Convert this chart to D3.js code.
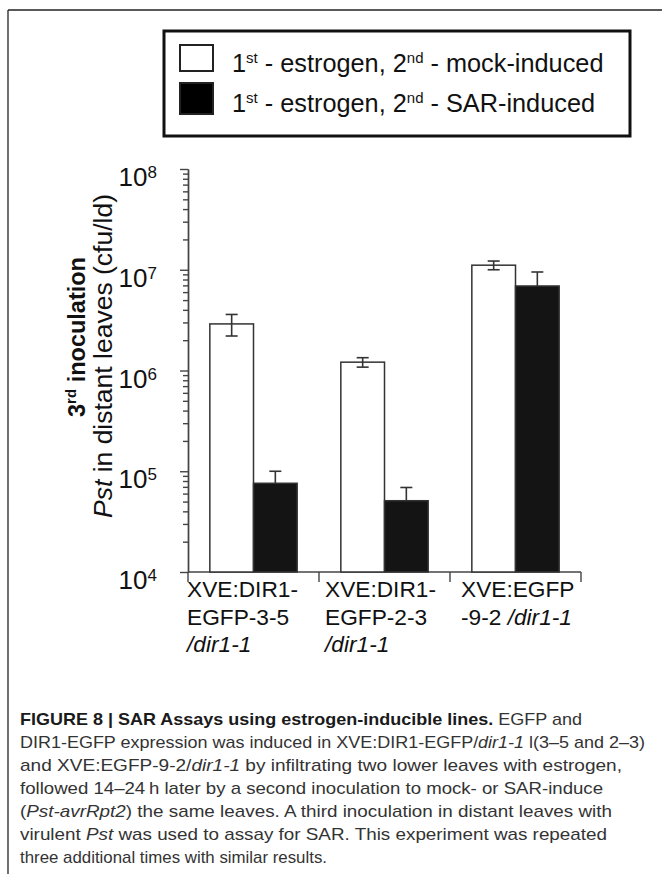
<!DOCTYPE html>
<html>
<head>
<meta charset="utf-8">
<script src="https://cdn.jsdelivr.net/npm/d3@7"></script>
<style>
  html, body { margin: 0; padding: 0; background: #fff; }
  svg { display: block; }
  text { font-family: "Liberation Sans", Arial, Helvetica, sans-serif; }
</style>
</head>
<body>
<svg id="chart" width="662" height="874"></svg>
<script>
// ---------------- DATA ----------------
const categories = ["XVE:DIR1-EGFP-3-5/dir1-1", "XVE:DIR1-EGFP-2-3/dir1-1", "XVE:EGFP-9-2/dir1-1"];
// label lines for each category: [text, italic?]
const categoryLabelLines = [
  [[["XVE:DIR1-", false]], [["EGFP-3-5", false]], [["/dir1-1", true]]],
  [[["XVE:DIR1-", false]], [["EGFP-2-3", false]], [["/dir1-1", true]]],
  [[["XVE:EGFP", false]], [["-9-2 ", false], ["/dir1-1", true]]]
];
const seriesNames = ["mock", "sar"];
const mockValues = [2.9e6, 1.21e6, 1.11e7];
const mockErrors = [0.7e6, 0.13e6, 1.1e6];
const sarValues  = [7.6e4, 5.1e4, 6.9e6];
const sarErrors  = [2.4e4, 1.8e4, 2.6e6];
const yTickExponents = [4, 5, 6, 7, 8];
const legendLabels = [
  ["1", "st", " - estrogen, ", "2", "nd", " - mock-induced"],
  ["1", "st", " - estrogen, ", "2", "nd", " - SAR-induced"]
];
const yTitleLine1 = ["3", "rd", " inoculation"];
const yTitleLine2 = [["Pst", true], [" in distant leaves (cfu/ld)", false]];
const captionLines = [
  [["FIGURE 8 | SAR Assays using estrogen-inducible lines.", "b"], [" EGFP and", ""]],
  [["DIR1-EGFP expression was induced in XVE:DIR1-EGFP/", ""], ["dir1-1", "i"], [" l(3–5 and 2–3)", ""]],
  [["and XVE:EGFP-9-2/", ""], ["dir1-1", "i"], [" by infiltrating two lower leaves with estrogen,", ""]],
  [["followed 14–24\u2009h later by a second inoculation to mock- or SAR-induce", ""]],
  [["(", ""], ["Pst-avrRpt2", "i"], [") the same leaves. A third inoculation in distant leaves with", ""]],
  [["virulent ", ""], ["Pst", "i"], [" was used to assay for SAR. This experiment was repeated", ""]],
  [["three additional times with similar results.", ""]]
];
// measured widths of the caption lines in the reference (px)
const captionLineWidths = [562, 625, 602, 583, 592, 587, 307];

// ---------------- DRAW ----------------
const svg = d3.select("#chart");

// outer frame (top + left)
svg.append("line").attr("x1", 8).attr("y1", 10).attr("x2", 662).attr("y2", 10)
  .attr("stroke", "#222").attr("stroke-width", 1.3);
svg.append("line").attr("x1", 8).attr("y1", 10).attr("x2", 8).attr("y2", 874)
  .attr("stroke", "#222").attr("stroke-width", 1.3);

// legend
const lg = svg.append("g");
lg.append("rect").attr("x", 164).attr("y", 31).attr("width", 466).attr("height", 105)
  .attr("fill", "#fff").attr("stroke", "#111").attr("stroke-width", 3);
const swatchFill = ["#fff", "#000"];
const swatchY = [45, 83];
const swatchH = [26, 31];
legendLabels.forEach((parts, i) => {
  lg.append("rect").attr("x", 180).attr("y", swatchY[i]).attr("width", 33).attr("height", swatchH[i])
    .attr("fill", swatchFill[i]).attr("stroke", "#222").attr("stroke-width", 2);
  const t = lg.append("text").attr("x", 232).attr("y", [72, 112][i])
    .attr("font-size", 25.3).attr("fill", "#111");
  parts.forEach((p, k) => {
    const sup = (k === 1 || k === 4);
    const ts = t.append("tspan").text(p);
    if (sup) ts.attr("font-size", 15).attr("dy", -9);
    else if (k === 2 || k === 5) ts.attr("dy", 9);
  });
});

// scales
const y = d3.scaleLog().domain([1e4, 1e8]).range([572, 169]);
const x = d3.scaleBand().domain(categories).range([188, 581]).paddingInner(0).paddingOuter(0);
const xs = d3.scaleBand().domain(seriesNames).range([0, x.bandwidth()]).paddingInner(0).paddingOuter(0.5);

// y axis: minor ticks
const minorTicks = [];
for (let e = 4; e < 8; e++) for (let m = 2; m <= 9; m++) minorTicks.push(m * Math.pow(10, e));
const gMinor = svg.append("g").attr("transform", "translate(188,0)")
  .call(d3.axisLeft(y).tickValues(minorTicks).tickSize(5).tickSizeOuter(0).tickFormat(""));
const gMajor = svg.append("g").attr("transform", "translate(188,0)")
  .call(d3.axisLeft(y).tickValues(yTickExponents.map(e => Math.pow(10, e))).tickSize(8).tickSizeOuter(0).tickFormat(""));
[gMinor, gMajor].forEach(g => {
  g.selectAll("path,line").attr("stroke", "#444").attr("stroke-width", 1.4);
});

// y tick labels
yTickExponents.forEach(e => {
  const t = svg.append("text").attr("x", 157).attr("y", y(Math.pow(10, e)) + 17)
    .attr("text-anchor", "end").attr("font-size", 26).attr("fill", "#111");
  t.append("tspan").text("10");
  t.append("tspan").text(String(e)).attr("font-size", 17).attr("dy", -8);
});

// x axis
const xAxisG = svg.append("g");
xAxisG.append("line").attr("x1", x.range()[0]).attr("x2", x.range()[1])
  .attr("y1", y(1e4)).attr("y2", y(1e4)).attr("stroke", "#444").attr("stroke-width", 1.4);
const boundaries = categories.map(c => x(c)).concat([x.range()[1]]);
xAxisG.selectAll("line.b").data(boundaries).enter().append("line")
  .attr("x1", d => d).attr("x2", d => d).attr("y1", y(1e4)).attr("y2", y(1e4) + 10)
  .attr("stroke", "#444").attr("stroke-width", 1.4);

// bars
const rows = [];
categories.forEach((c, i) => {
  rows.push({ c, s: "mock", v: mockValues[i], e: mockErrors[i] });
  rows.push({ c, s: "sar", v: sarValues[i], e: sarErrors[i] });
});
const barColor = { mock: "#fff", sar: "#141414" };
svg.append("g").selectAll("rect").data(rows).enter().append("rect")
  .attr("x", d => x(d.c) + xs(d.s))
  .attr("y", d => y(d.v))
  .attr("width", xs.bandwidth())
  .attr("height", d => y(1e4) - y(d.v))
  .attr("fill", d => barColor[d.s])
  .attr("stroke", "#333").attr("stroke-width", 1.5);

// error bars
const eg = svg.append("g").attr("stroke", "#333").attr("stroke-width", 1.6);
rows.forEach(d => {
  const cx = x(d.c) + xs(d.s) + xs.bandwidth() / 2;
  const top = y(d.v + d.e);
  const bot = d.s === "mock" ? y(d.v - d.e) : y(d.v);
  eg.append("line").attr("x1", cx).attr("x2", cx).attr("y1", top).attr("y2", bot);
  eg.append("line").attr("x1", cx - 6).attr("x2", cx + 6).attr("y1", top).attr("y2", top);
  if (d.s === "mock")
    eg.append("line").attr("x1", cx - 6).attr("x2", cx + 6).attr("y1", bot).attr("y2", bot);
});

// x labels
categories.forEach((c, i) => {
  categoryLabelLines[i].forEach((line, li) => {
    const t = svg.append("text").attr("x", x(c) - 1 + (i === 0 ? 0 : 7) + (i === 2 ? 5 : 0))
      .attr("y", 597 + li * 27.5).attr("font-size", 22.7).attr("fill", "#111");
    line.forEach(([txt, it]) => {
      t.append("tspan").text(txt).attr("font-style", it ? "italic" : "normal");
    });
  });
});

// y title
const yt1 = svg.append("text").attr("transform", "translate(85,337) rotate(-90)")
  .attr("text-anchor", "middle").attr("font-size", 23.5).attr("font-weight", "bold").attr("fill", "#111");
yt1.append("tspan").text(yTitleLine1[0]);
yt1.append("tspan").text(yTitleLine1[1]).attr("font-size", 15).attr("dy", -9);
yt1.append("tspan").text(yTitleLine1[2]).attr("dy", 9);
const yt2 = svg.append("text").attr("transform", "translate(112,356) rotate(-90)")
  .attr("text-anchor", "middle").attr("font-size", 26.5).attr("fill", "#111");
yTitleLine2.forEach(([txt, it]) => yt2.append("tspan").text(txt).attr("font-style", it ? "italic" : "normal"));

// caption
const cg = svg.append("g");
captionLines.forEach((line, li) => {
  const t = cg.append("text").attr("x", 20).attr("y", 725 + li * 23)
    .attr("font-size", 17).attr("fill", "#333")
    .attr("textLength", captionLineWidths[li]).attr("lengthAdjust", "spacingAndGlyphs");
  line.forEach(([txt, st]) => {
    const ts = t.append("tspan").text(txt);
    if (st === "b") ts.attr("font-weight", "bold").attr("fill", "#1a1a1a");
    if (st === "i") ts.attr("font-style", "italic");
  });
});
</script>
</body>
</html>
